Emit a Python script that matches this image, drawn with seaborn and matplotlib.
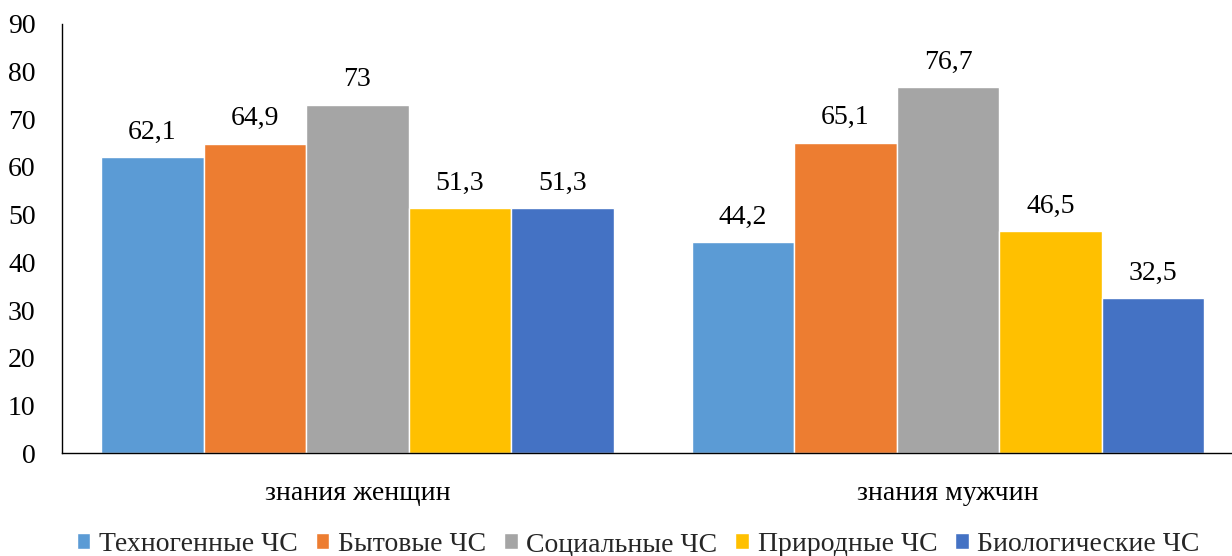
import pandas as pd
import matplotlib.pyplot as plt
import seaborn as sns

# данные с диаграммы
groups = ['знания женщин', 'знания мужчин']
series = ['Техногенные ЧС', 'Бытовые ЧС', 'Социальные ЧС', 'Природные ЧС', 'Биологические ЧС']
women = [62.1, 64.9, 73, 51.3, 51.3]
men = [44.2, 65.1, 76.7, 46.5, 32.5]
colors = ['#5B9BD5', '#ED7D31', '#A5A5A5', '#FFC000', '#4472C4']

rows = []
for s, w, m in zip(series, women, men):
    rows.append({'group': groups[0], 'series': s, 'value': w})
    rows.append({'group': groups[1], 'series': s, 'value': m})
df = pd.DataFrame(rows)

sns.set_style('white')
plt.rcParams['font.family'] = ['Liberation Serif', 'DejaVu Serif']

fig = plt.figure(figsize=(12.32, 5.56), dpi=100)
# ось выходит чуть за правый край, как в оригинале
ax = fig.add_axes([0.0503, 0.185, 0.959, 0.772])

sns.barplot(data=df, x='group', y='value', hue='series', order=groups,
            hue_order=series, palette=colors, saturation=1, width=0.868, gap=0,
            edgecolor='white', linewidth=1, ax=ax, legend=True)

for cont in ax.containers:
    labels = [f'{v:g}'.replace('.', ',') for v in cont.datavalues]
    ax.bar_label(cont, labels=labels, padding=9, fontsize=20, color='black')

ax.set_ylim(0, 90)
ax.set_yticks(range(0, 91, 10))
ax.set_xlim(-0.5, 1.5)
ax.set_xlabel('')
ax.set_ylabel('')
ax.tick_params(axis='both', length=0, labelsize=20, colors='black')
ax.tick_params(axis='x', pad=20)
ax.tick_params(axis='y', pad=19)

for side in ['top', 'right']:
    ax.spines[side].set_visible(False)
ax.spines['left'].set_color('black')
ax.spines['bottom'].set_color('black')
ax.spines['left'].set_linewidth(1)
ax.spines['bottom'].set_linewidth(1)

handles, labs = ax.get_legend_handles_labels()
ax.legend(handles, labs, loc='lower center', bbox_to_anchor=(0.518, -0.022),
          bbox_transform=fig.transFigure, ncol=5, frameon=False,
          fontsize=20, handlelength=0.5, handleheight=0.5,
          handletextpad=0.3, columnspacing=0.65, borderaxespad=0.0)

fig.savefig('out.png', dpi=100)
